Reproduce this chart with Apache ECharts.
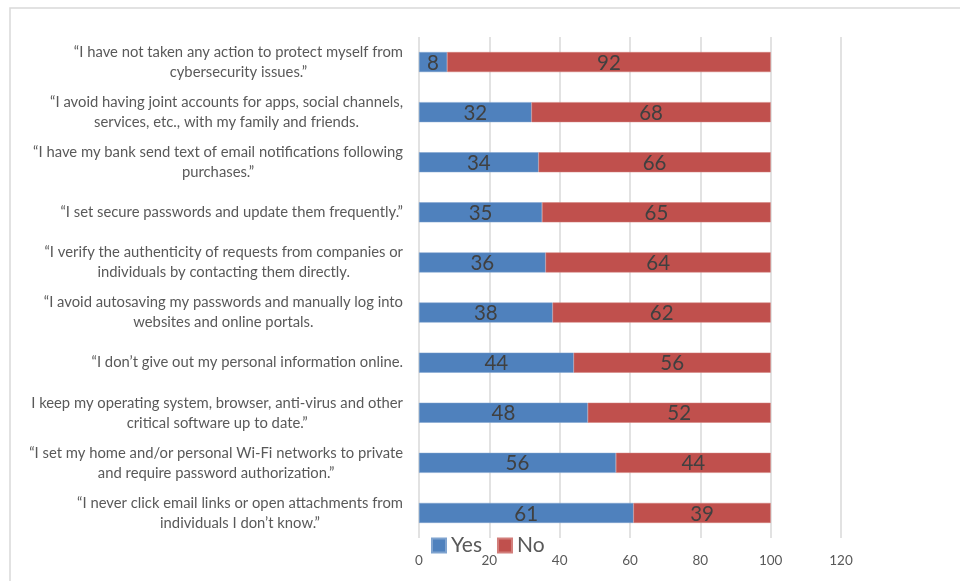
<!DOCTYPE html>
<html>
<head>
<meta charset="utf-8">
<title>Cybersecurity habits</title>
<script src="https://cdn.jsdelivr.net/npm/echarts@6/dist/echarts.min.js"></script>
<style>
  html, body { margin: 0; padding: 0; background: #ffffff; }
  #chart { width: 960px; height: 581px; }
</style>
</head>
<body>
<div id="chart"></div>
<script>
// Statements, listed top to bottom
const statements = [
  '\u201cI have not taken any action to protect myself from\ncybersecurity issues.\u201d',
  '\u201cI avoid having joint accounts for apps, social channels,\nservices, etc., with my family and friends.',
  '\u201cI have my bank send text of email notifications following\npurchases.\u201d',
  '\u201cI set secure passwords and update them frequently.\u201d',
  '\u201cI verify the authenticity of requests from companies or\nindividuals by contacting them directly.',
  '\u201cI avoid autosaving my passwords and manually log into\nwebsites and online portals.',
  '\u201cI don\u2019t give out my personal information online.',
  'I keep my operating system, browser, anti-virus and other\ncritical software up to date.\u201d',
  '\u201cI set my home and/or personal Wi-Fi networks to private\nand require password authorization.\u201d',
  '\u201cI never click email links or open attachments from\nindividuals I don\u2019t know.\u201d'
];

// Percent of respondents
const yesValues = [8, 32, 34, 35, 36, 38, 44, 48, 56, 61];
const noValues  = [92, 68, 66, 65, 64, 62, 56, 52, 44, 39];

// Value axis ticks
const axisMin = 0;
const axisMax = 120;
const axisStep = 20;

const FONT = 'Lato, "Open Sans", sans-serif';

const chart = echarts.init(document.getElementById('chart'), null, { renderer: 'canvas' });

const barLabel = {
  show: true,
  position: 'inside',
  color: '#404040',
  fontSize: 20.5,
  fontFamily: FONT,
  offset: [0, 1]
};

chart.setOption({
  animation: false,
  backgroundColor: '#ffffff',
  graphic: [{
    type: 'rect',
    shape: { x: 10, y: 8, width: 1000, height: 700 },
    style: { fill: 'none', stroke: '#d9d9d9', lineWidth: 1.5 },
    silent: true
  }],
  grid: { left: 419, right: 119, top: 37, bottom: 43, containLabel: false },
  legend: {
    left: 426,
    top: 530,
    itemWidth: 14,
    itemHeight: 14,
    itemGap: 15,
    icon: 'rect',
    textStyle: { color: '#595959', fontSize: 21, fontFamily: FONT },
    data: ['Yes', 'No']
  },
  xAxis: {
    type: 'value',
    min: axisMin,
    max: axisMax,
    interval: axisStep,
    axisLine: { show: false },
    axisTick: { show: false },
    splitLine: { show: true, lineStyle: { color: '#d9d9d9', width: 1.5 } },
    axisLabel: {
      color: '#595959',
      fontSize: 13.5,
      margin: 16,
      fontFamily: FONT
    }
  },
  yAxis: {
    type: 'category',
    inverse: true,
    data: statements,
    axisLine: { show: false },
    axisTick: { show: false },
    axisLabel: {
      margin: 16,
      align: 'right',
      formatter: function (v) {
        return v.split('\n').map(function (s) { return '{c|' + s + '}'; }).join('\n');
      },
      rich: {
        c: {
          align: 'center',
          color: '#595959',
          fontSize: 14.8,
          lineHeight: 20,
          fontFamily: FONT
        }
      }
    }
  },
  series: [
    {
      name: 'Yes',
      type: 'bar',
      stack: 'total',
      barWidth: 20,
      data: yesValues,
      itemStyle: { color: '#4f81bd', borderColor: '#7fa3cf', borderWidth: 0.5 },
      label: barLabel
    },
    {
      name: 'No',
      type: 'bar',
      stack: 'total',
      barWidth: 20,
      data: noValues,
      itemStyle: { color: '#c0504d', borderColor: '#d27e7b', borderWidth: 0.5 },
      label: barLabel
    }
  ]
});
</script>
</body>
</html>
